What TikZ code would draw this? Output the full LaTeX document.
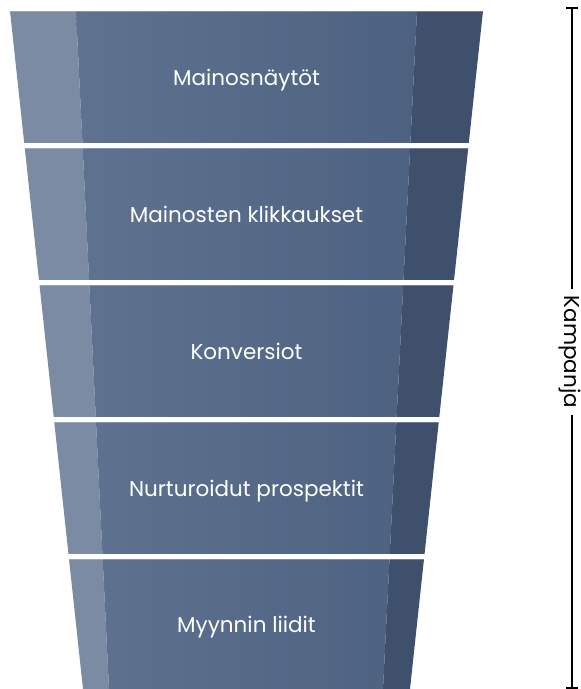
\documentclass[tikz,border=0pt]{standalone}
\usepackage{fontspec}
\setmainfont{Poppins}
\definecolor{stripL}{HTML}{7A8BA3}
\definecolor{mainL}{HTML}{5F7391}
\definecolor{mainR}{HTML}{4D6180}
\definecolor{stripR}{HTML}{3E506C}
\begin{document}
\begin{tikzpicture}[x=1pt,y=-1pt,
  stage/.style={text=white,font=\fontsize{21.5}{25}\selectfont,anchor=base,inner sep=0pt},
  bracketline/.style={line width=2.6pt,black},
  sidelabel/.style={rotate=-90,font=\fontsize{21.5}{25}\selectfont,inner xsep=7pt,inner ysep=0pt},
]
\useasboundingbox (0,0) rectangle (581,689);

% funnel stages: each band clips the three vertical strips of the funnel
\foreach \yt/\yb/\txt/\nm in {11/142/Mainosnäytöt/s1,
                              148/279/Mainosten klikkaukset/s2,
                              285/416/Konversiot/s3,
                              422/553/Nurturoidut prospektit/s4,
                              559/689/Myynnin liidit/s5}{
  \begin{scope}
    \clip (0,\yt) rectangle (500,\yb);
    \fill[stripL] (10,11) -- (76,11) -- (109,689) -- (83,689) -- cycle;
    \shade[left color=mainL,right color=mainR]
      (76,11) -- (417,11) -- (383,689) -- (109,689) -- cycle;
    \fill[stripR] (417,11) -- (483,11) -- (410,689) -- (383,689) -- cycle;
    \fill[white,opacity=0.25] (0,\yt) rectangle (500,\yt+1.2);
  \end{scope}
  \node[stage] (\nm) at (246.5,{(\yt+\yb)/2+8.5}) {\txt};
}

% campaign bracket
\coordinate (bt) at (572,8);
\coordinate (bb) at (572,688);
\node[sidelabel] (camp) at (570,352) {Kampanja};
\draw[bracketline] (bt) -- (bt |- camp.west);
\draw[bracketline] (bb |- camp.east) -- (bb);
\draw[bracketline] ([xshift=-6pt]bt) -- ([xshift=6pt]bt);
\draw[bracketline] ([xshift=-6pt]bb) -- ([xshift=6pt]bb);
\end{tikzpicture}
\end{document}
